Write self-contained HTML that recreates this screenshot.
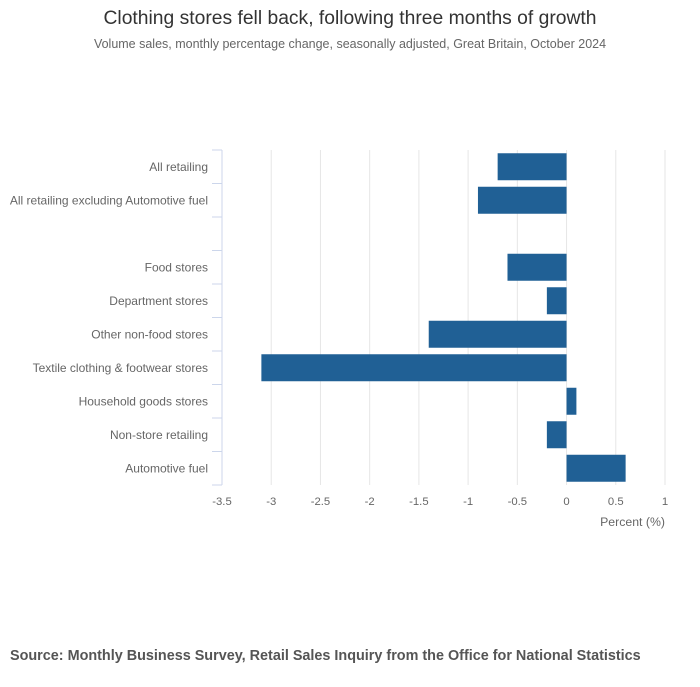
<!DOCTYPE html>
<html><head><meta charset="utf-8"><style>
body{margin:0;background:#fff;font-family:"Liberation Sans",sans-serif;}
</style></head><body>
<svg id="chart" width="700" height="682" xmlns="http://www.w3.org/2000/svg" font-family="Liberation Sans, sans-serif">
<text x="350" y="24" text-anchor="middle" font-size="19.3" fill="#333">Clothing stores fell back, following three months of growth</text>
<text x="350" y="48" text-anchor="middle" font-size="12.5" fill="#666">Volume sales, monthly percentage change, seasonally adjusted, Great Britain, October 2024</text>
<g id="grid"></g><g id="bars"></g><g id="yaxis"></g><g id="xaxis"></g>
<text x="665" y="526" text-anchor="end" font-size="12.3" fill="#666">Percent (%)</text>
<text x="10" y="660" font-size="14.4" font-weight="bold" fill="#555">Source: Monthly Business Survey, Retail Sales Inquiry from the Office for National Statistics</text>
</svg>
<script>
const categories=["All retailing","All retailing excluding Automotive fuel","","Food stores","Department stores","Other non-food stores","Textile clothing & footwear stores","Household goods stores","Non-store retailing","Automotive fuel"];
const values=[-0.7,-0.9,null,-0.6,-0.2,-1.4,-3.1,0.1,-0.2,0.6];
const xTicks=[-3.5,-3,-2.5,-2,-1.5,-1,-0.5,0,0.5,1];
const NS="http://www.w3.org/2000/svg";
const x0=222,x1=665,yTop=150,yBottom=485,xMin=-3.5,xMax=1;
const xs=v=>x0+(v-xMin)/(xMax-xMin)*(x1-x0);
const band=(yBottom-yTop)/categories.length;
function mk(tag,attrs,parent){const e=document.createElementNS(NS,tag);for(const k in attrs)e.setAttribute(k,attrs[k]);document.getElementById(parent).appendChild(e);return e;}
xTicks.forEach(t=>{
  if(t!==xMin){const g=mk('line',{x1:xs(t),x2:xs(t),y1:yTop,y2:yBottom,stroke:'#e6e6e6','stroke-width':1},'grid');
  
  }
  const l=mk('text',{x:xs(t),y:505,'text-anchor':'middle','font-size':11.3,fill:'#666'},'xaxis');
  l.textContent=String(t);
  
  
});
const ax=mk('line',{x1:x0,x2:x0,y1:yTop,y2:yBottom,stroke:'#ccd6eb','stroke-width':1},'yaxis');


for(let i=0;i<=categories.length;i++){
  const y=yTop+i*band;
  const tk=mk('line',{x1:x0-10,x2:x0,y1:y,y2:y,stroke:'#ccd6eb','stroke-width':1},'yaxis');
  
  
}
categories.forEach((c,i)=>{
  const yc=yTop+(i+0.5)*band;
  if(c){const t=mk('text',{x:208,y:yc+4,'text-anchor':'end','font-size':12,fill:'#666'},'yaxis');
  t.textContent=c;
  
  }
  const v=values[i];
  if(v!==null){
    const a=xs(Math.min(0,v)),b=xs(Math.max(0,v));
    const r=mk('rect',{x:a,y:yc-13.5,width:b-a,height:27,fill:'#206095'},'bars');
    
    
  }
});
</script>
</body></html>
